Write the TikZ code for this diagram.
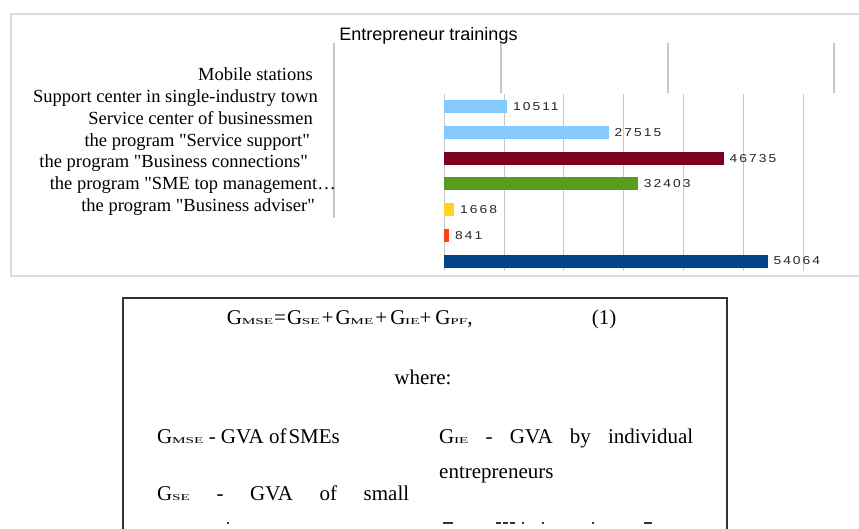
\documentclass[tikz,border=0pt]{standalone}
\usepackage{fontspec}
\usepackage{graphicx}
\setmainfont{Liberation Serif}[Ligatures=TeXOff]
\newfontfamily\chartsans{Liberation Sans}
\newfontfamily\valuefont[LetterSpace=18, FakeStretch=1.2]{Liberation Sans}
\definecolor{chartframe}{gray}{0.86}
\definecolor{chartgrid}{gray}{0.78}
\definecolor{barsky}{HTML}{83CAFF}
\definecolor{barwine}{HTML}{7E0021}
\definecolor{bargreen}{HTML}{579D1C}
\definecolor{baryellow}{HTML}{FFD320}
\definecolor{barorange}{HTML}{FF420E}
\definecolor{barnavy}{HTML}{004586}
\definecolor{boxline}{gray}{0.2}
\newcommand{\gsub}[1]{G\kern-0.3pt\scalebox{1.7}[1]{\fontsize{9}{9}\selectfont #1}}
\tikzset{
  catlabel/.style={anchor=base east, inner sep=0pt, font=\fontsize{18.5}{20}\selectfont},
  valuelabel/.style={anchor=west, inner sep=0pt, text=black!85, font=\valuefont\fontsize{11.5}{12}\selectfont},
  boxtext/.style={anchor=base west, inner sep=0pt, font=\fontsize{21}{23}\selectfont},
}

\begin{document}
\begin{tikzpicture}[x=1pt, y=-1pt]
    \useasboundingbox (0,0) rectangle (859,528);
    \clip (0,0) rectangle (859,528);
    % chart frame
    \draw[chartframe, line width=1.8pt] (880,14) -- (11,14) -- (11,276) -- (880,276);
    \node[anchor=base, inner sep=0pt, font=\chartsans\fontsize{18}{18}\selectfont] (title) at (428.5,40) {Entrepreneur trainings};
    % grid
    \draw[chartgrid, line width=1.2pt] (334,43) -- (334,218);
    \foreach \gx in {501,668,834}
        \draw[chartgrid, line width=1.2pt] (\gx,43) -- (\gx,93);
    \foreach \k in {0,...,6}
        \draw[chartgrid, line width=1pt] ({444.3+59.8*\k},94) -- ({444.3+59.8*\k},271);
    % category labels
    \foreach \lab/\rx [count=\i from 0] in {Mobile stations/313,
        Support center in single-industry town/318,
        Service center of businessmen/313,
        the program "Service support"/310,
        the program "Business connections"/308,
        the program "SME top management…/336,
        the program "Business adviser"/315}
        \node[catlabel] (cat\i) at (\rx,{80.7+21.8*\i}) {\lab};
    % bars
    \foreach \k/\val/\col [count=\i from 0] in {10.511/10511/barsky, 27.515/27515/barsky,
        46.735/46735/barwine, 32.403/32403/bargreen, 1.668/1668/baryellow,
        0.841/841/barorange, 54.064/54064/barnavy} {
        \fill[\col] (444.3,{100.2+25.72*\i}) rectangle ({444.3+5.98*\k},{113.2+25.72*\i});
        \node[valuelabel] (val\i) at ({450+5.98*\k},{106.7+25.72*\i}) {\val};
    }
    % formula box
    \draw[boxline, line width=2pt] (123,540) -- (123,297.5) -- (726.5,297.5) -- (726.5,540);
    \node[boxtext] (formula) at (226.7,324) {\gsub{MSE}\kern1pt=\kern1pt\gsub{SE}\kern2pt+\kern2pt\gsub{ME}\kern2pt+\kern3pt\gsub{IE}+\kern4pt\gsub{PF},};
    \node[boxtext] (eqno) at (591.7,324) {(1)};
    \node[boxtext, anchor=base] (where) at (423,384) {where:};
    \node[boxtext] (defmse) at (157,443) {\gsub{MSE} - GVA of\kern2pt SMEs};
    \node[boxtext] (defie) at (439,443) {\hbox to 254pt{\gsub{IE}\hfill-\hfill GVA\hfill by\hfill individual}};
    \node[boxtext] (entr) at (439,478) {entrepreneurs};
    \node[boxtext] (defse) at (157,500) {\hbox to 252pt{\gsub{SE}\hfill-\hfill GVA\hfill of\hfill small}};
    % cut-off tops of the next line
    \foreach \xa/\xb in {227/229, 443/453, 496/501, 503/508, 510/515, 522/524, 542/544, 592/594, 644/652}
        \fill[boxline] (\xa,521.5) rectangle (\xb,523.5);
\end{tikzpicture}
\end{document}
